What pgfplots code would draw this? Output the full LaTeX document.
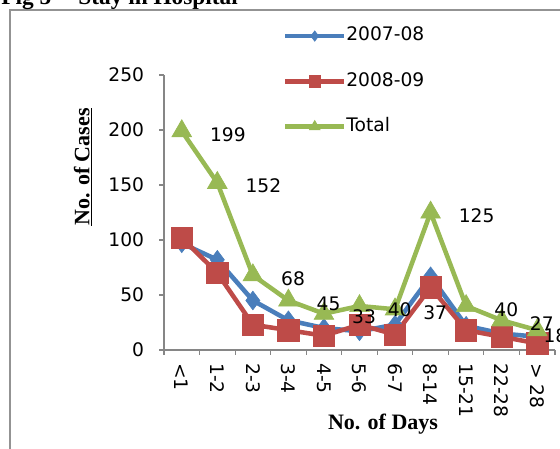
\documentclass[border=0pt]{standalone}
\usepackage{fontspec}
\setmainfont{DejaVu Sans}
\newfontfamily\serif{Liberation Serif}
\usepackage{pgfplots}
\pgfplotsset{compat=1.18}
\definecolor{cblue}{HTML}{4A7EBB}
\definecolor{cred}{HTML}{BE4B48}
\definecolor{cgreen}{HTML}{98B954}
\definecolor{axgray}{HTML}{868686}
\begin{document}
\begin{tikzpicture}[x=0.75pt,y=0.75pt]
\useasboundingbox (0,0) rectangle (560,449);
% outer frame
\draw[color=gray!85, line width=2pt] (10,-10) -- (10,439) -- (580,439);
% title (partly cut off at the top)
\node[anchor=base west, inner sep=0pt, font=\serif\bfseries\fontsize{17.5}{20}\selectfont] at (1,444) {Fig 5 -- Stay in Hospital};
\begin{axis}[
  at={(123pt,74.25pt)}, anchor=south west,
  scale only axis, width=293.25pt, height=206.25pt,
  xmin=-0.5, xmax=10.5, ymin=0, ymax=250,
  axis x line*=bottom, axis y line*=left,
  axis line style={-, color=axgray, line width=0.8pt},
  tick style={color=axgray, line width=0.8pt},
  tick align=outside,
  xtick={0,...,10},
  xticklabels={{<1},{1-2},{2-3},{3-4},{4-5},{5-6},{6-7},{8-14},{15-21},{22-28},{> 28}},
  major x tick style={draw=none},
  minor xtick={-0.5,0.5,...,10.5},
  minor tick length=3.75pt,
  major tick length=3.75pt,
  ytick={0,50,...,250},
  xticklabel style={rotate=-90, anchor=west, inner sep=0pt, xshift=6pt},
  yticklabel style={anchor=east, inner sep=0pt, xshift=-11pt},
  /pgf/number format/assume math mode=true,
  tick label style={font=\fontsize{14}{16}\selectfont, color=black},
  clip=false,
  legend style={at={(0.304,1.174)}, anchor=north west, draw=none, fill=none,
    font=\fontsize{14}{16}\selectfont, inner sep=0pt, row sep=21pt,
    nodes={inner sep=0pt, text height=10pt, text depth=3pt},
    /tikz/every even column/.append style={column sep=4.5pt}},
  legend cell align=left,
  legend image code/.code={%
    \draw[mark repeat=2, mark phase=2, #1, every mark/.append style={scale=0.55}]
      plot coordinates {(0pt,0pt) (22pt,0pt) (44pt,0pt)};},
]
\addplot[color=cblue, line width=3.4pt, mark=diamond*, mark size=7pt,
  mark options={fill=cblue, draw=cblue, line width=0.5pt}]
  coordinates {(0,97) (1,82) (2,45) (3,27) (4,20) (5,17) (6,23) (7,67) (8,22) (9,15) (10,12)};
\addlegendentry{2007-08}
\addplot[color=cred, line width=3.4pt, mark=square*, mark size=8pt,
  mark options={fill=cred, draw=cred, line width=0.5pt}]
  coordinates {(0,102) (1,70) (2,23) (3,18) (4,13) (5,23) (6,14) (7,57) (8,18) (9,12) (10,6)};
\addlegendentry{2008-09}
\addplot[color=cgreen, line width=3.4pt, mark=triangle*, mark size=8.5pt,
  mark options={fill=cgreen, draw=cgreen, line width=0.5pt}]
  coordinates {(0,199) (1,152) (2,68) (3,45) (4,33) (5,40) (6,37) (7,125) (8,40) (9,27) (10,18)};
\addlegendentry{Total}
% data labels of Total
\addplot[draw=none, mark=none, forget plot, nodes near coords,
  nodes near coords style={anchor=west, xshift=21pt, yshift=-2.5pt, inner sep=0pt,
    font=\fontsize{14}{16}\selectfont, color=black}]
  coordinates {(0,199) (1,152) (2,68) (3,45) (4,33) (5,40) (6,37) (7,125) (8,40) (9,27)};
\addplot[draw=none, mark=none, forget plot, nodes near coords,
  nodes near coords style={anchor=west, xshift=4.5pt, yshift=-4pt, inner sep=0pt,
    font=\fontsize{14}{16}\selectfont, color=black}]
  coordinates {(10,18)};
\end{axis}
\node[rotate=90, inner sep=0pt, font=\serif\bfseries\fontsize{16.5}{19}\selectfont] at (83,282) {\underline{No. of Cases}};
\node[inner sep=0pt, font=\serif\bfseries\fontsize{16.5}{19}\selectfont] at (383,25) {No. of Days};
\end{tikzpicture}
\end{document}
